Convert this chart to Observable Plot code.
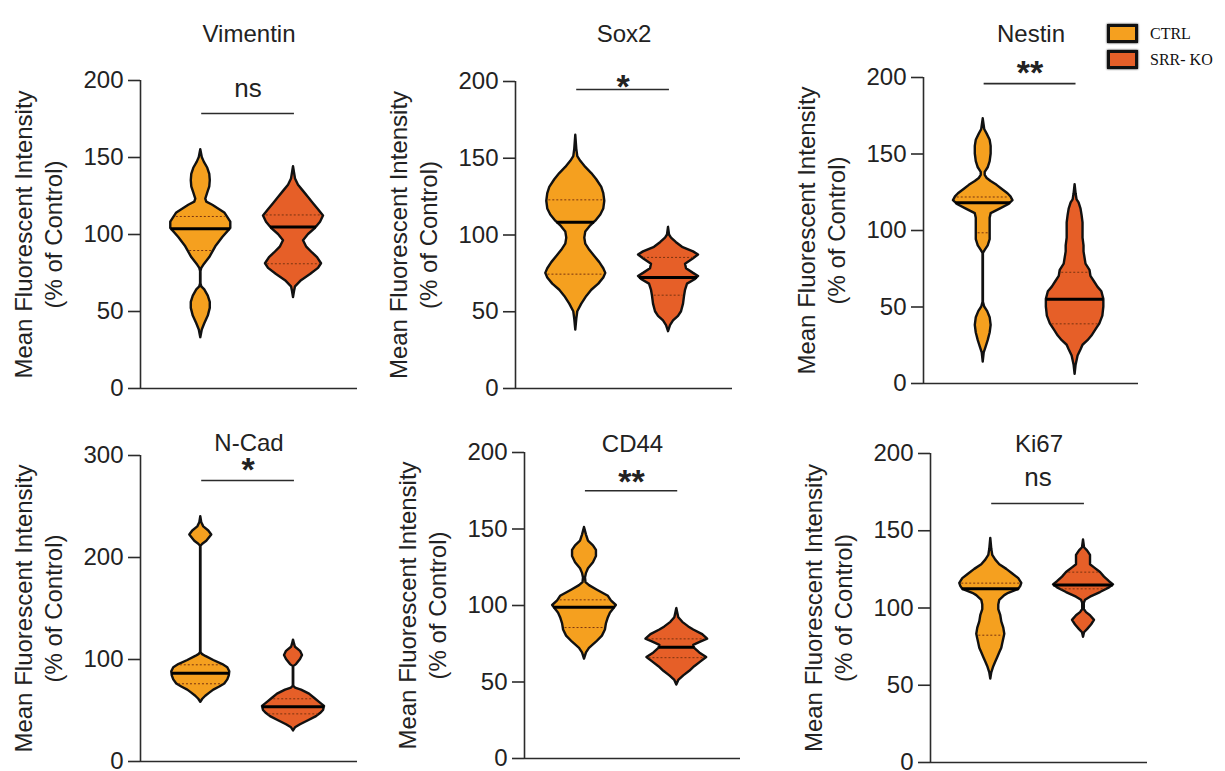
<!DOCTYPE html>
<html>
<head>
<meta charset="utf-8">
<script src="https://cdn.jsdelivr.net/npm/d3@7"></script>
<script src="https://cdn.jsdelivr.net/npm/@observablehq/plot@0.6"></script>
<style>
html, body { margin: 0; padding: 0; background: #fff; }
#root { position: relative; width: 1225px; height: 771px; overflow: hidden; font-family: "Liberation Sans", Arial, Helvetica, sans-serif; }
.panel { position: absolute; }
.legend { position: absolute; left: 1107px; top: 24px; font-family: "Liberation Serif", "Times New Roman", serif; font-size: 16px; color: #111; }
.legend .row { display: flex; align-items: center; height: 19px; margin-bottom: 7px; }
.legend .sw { width: 31px; height: 19px; box-sizing: border-box; border: 3.5px solid #111; margin-right: 12px; box-shadow: 0 0 2px #000; }
</style>
</head>
<body>
<div id="root"></div>
<script>
// ---------------- data ----------------
const markers = ["Vimentin", "Sox2", "Nestin", "N-Cad", "CD44", "Ki67"];
const groups = ["CTRL", "SRR- KO"];
const groupColors = ["#F5A01F", "#E65F28"];
const yLabel = "Mean Fluorescent Intensity\n(% of Control)";
const yMax = [200, 200, 200, 300, 200, 200];
const yTicks = [
  [0, 50, 100, 150, 200],
  [0, 50, 100, 150, 200],
  [0, 50, 100, 150, 200],
  [0, 100, 200, 300],
  [0, 50, 100, 150, 200],
  [0, 50, 100, 150, 200]
];
const significance = ["ns", "*", "**", "*", "**", "ns"];
const bracketY = [178.6, 194.8, 196, 275.5, 175, 167.6];
// [CTRL, SRR- KO]
const medians = [[103.7, 104.8], [108.3, 72.3], [118.1, 55], [86.6, 53.6], [98.9, 72.7], [112.4, 114.9]];
const quartile1 = [[89.6, 81], [74.5, 60.8], [98.5, 39], [76.2, 46.7], [85.6, 65.9], [82.4, 112.4]];
const quartile3 = [[111.7, 112.7], [122.9, 85.4], [121.9, 72.7], [94.8, 61.5], [103.7, 78.2], [116.1, 123.2]];

// violin density profiles: [value, relative density]
const vimentinCtrl = [[33,0],[38,1.5],[42,4],[47,7.5],[52,9.5],[56,9.5],[60,7.5],[64,4],[66,1],[68,0.2],[76,0.2],[78,1],[80,3],[85,9],[92,15],[98,22],[104,30],[108,30],[114,24],[119,12],[121,6],[123,5],[127,7],[131,9],[135,9.5],[139,9],[143,7],[147,3.5],[150,1.5],[155,0]];
const vimentinKo = [[59,0],[63,1],[66,2],[70,8],[74,17],[78,25],[81,28],[85,24],[88,19],[92,13],[96,10],[100,15],[104,22],[108,27],[112,30],[116,25],[120,20],[124,15],[128,10],[132,5],[136,2],[140,1],[144,0]];
const sox2Ctrl = [[38,0],[45,1],[50,2],[55,6],[60,11],[64,16],[68,23],[72,28],[75,30],[78,28],[82,24],[86,19],[90,14],[94,10],[98,9],[102,10],[106,15],[109,20],[113,25],[117,28],[122,29],[127,28],[131,26],[136,21],[140,16],[144,10],[148,5],[151,2],[156,1],[165,0]];
const sox2Ko = [[37,0],[41,2],[44,5],[47,10],[50,13],[55,15],[60,16],[64,17],[68,19],[71,27],[73,30],[75,25],[78,18],[81,17],[84,24],[87,30],[89,25],[92,14],[95,8],[98,3],[100,1],[105,0]];
const nestinCtrl = [[14,0],[20,1],[24,3],[28,5],[33,7],[38,8],[43,7],[47,4.5],[50,1.5],[53,0.2],[70,0.2],[85,0.2],[87,2],[90,5],[94,7],[100,7],[104,7],[108,7],[111,8],[114,17],[117,26],[119.5,30],[122,28],[124,25],[127,19],[129.5,14],[132,8],[134,4],[136,2],[138,2],[141,5],[145,7],[150,8],[155,8],[159,7],[163,4],[166,1.5],[173,0]];
const nestinKo = [[6,0],[12,1],[18,3],[22,6],[25,8],[28,13],[31,17],[35,21],[39,25],[44,28],[50,29],[55,29],[60,27],[63,23],[66,20],[70,16],[74,15],[78,11],[82,10],[86,9],[90,9],[95,8],[100,8],[105,8],[110,7],[114,6],[118,4],[120,2],[124,1],[130,0]];
const ncadCtrl = [[58,0],[61,2],[64,5],[67,9],[70,13],[73,19],[76,24],[80,27],[84,28.5],[88,29],[92,27],[95,22],[99,13],[103,5],[105,1.5],[107,0.2],[150,0.2],[211,0.2],[213,2],[216,6],[222,11],[226,8],[230,3],[234,1],[240,0]];
const ncadKo = [[30,0],[33,2],[36,7],[40,15],[44,23],[47,27],[50,30],[54,31],[58,26],[62,21],[66,16],[70,8],[72,2],[74,0.2],[93,0.2],[95,3],[100,7],[104,9],[108,7],[112,2],[115,1],[119,0]];
const cd44Ctrl = [[65,0],[69,2],[72,5],[76,12],[80,18],[84,21],[88,22],[92,24],[95,26],[100,32],[103,27],[106,24],[110,13],[113,5],[115,1.5],[118,1],[121,2],[124,4],[128,9],[132,12],[136,12],[139,9],[142,4],[146,2],[151,0]];
const cd44Ko = [[48,0],[51,2],[54,7],[57,13],[60,18],[63,24],[66,30],[69,23],[72,18],[74,17],[76,24],[78,31],[81,26],[84,17],[86,12],[89,6],[92,2],[95,1],[98,0]];
const ki67Ctrl = [[54,0],[58,1],[62,3],[65,5],[68,7],[71,9],[74,11],[77,12],[80,13],[83,14],[87,13],[91,11],[95,10],[99,8],[102,8],[105,9],[108,14],[109.5,18],[112,28],[114,30],[116,31],[119,28],[122,22],[125,16],[128,9],[131,5],[134,2],[138,1],[145,0]];
const ki67Ko = [[81,0],[84,1],[86,4],[89,8],[92,11],[95,7],[97,3],[99,0.8],[103,0.8],[105,2],[107,7],[110,17],[113,26],[115,30],[117,26],[120,21],[123,17],[126,11],[128,7],[131,7],[134,7],[137,4],[139,1],[144,0]];

const profiles = [
  [vimentinCtrl, vimentinKo],
  [sox2Ctrl, sox2Ko],
  [nestinCtrl, nestinKo],
  [ncadCtrl, ncadKo],
  [cd44Ctrl, cd44Ko],
  [ki67Ctrl, ki67Ko]
];

// ---------------- layout (page pixels) ----------------
const layout = [
  {rowTop: 0,   axisX: 140, yTop: 80,  yBottom: 388, xRight: 357,  titleY: 24,  labelDy: -16},
  {rowTop: 0,   axisX: 515, yTop: 81,  yBottom: 388, xRight: 732,  titleY: 24,  labelDy: 9},
  {rowTop: 0,   axisX: 923, yTop: 77,  yBottom: 383, xRight: 1138, titleY: 24,  labelDy: 0},
  {rowTop: 400, axisX: 140, yTop: 455, yBottom: 761, xRight: 357,  titleY: 433, labelDy: 1},
  {rowTop: 400, axisX: 524, yTop: 452, yBottom: 758, xRight: 740,  titleY: 434, labelDy: 2},
  {rowTop: 400, axisX: 930, yTop: 453, yBottom: 762, xRight: 1147, titleY: 434, labelDy: -18}
];
const X_DOMAIN = [-0.65, 1.69];
const DENSITY_TO_X = 1 / 92.7;
const AXIS_COLOR = "#2b2b2b";

function widthAt(profile, v) {
  for (let k = 0; k < profile.length - 1; k++) {
    const [a, wa] = profile[k], [b, wb] = profile[k + 1];
    if (v >= a && v <= b) return wa + (wb - wa) * (v - a) / (b - a);
  }
  return 0;
}

const root = document.getElementById("root");

markers.forEach((name, i) => {
  const L = layout[i];
  const svgLeft = L.axisX - 140;
  const marginTop = L.yTop - L.rowTop;
  const height = L.yBottom - L.rowTop + 10;
  const width = L.xRight - svgLeft + 10;

  const marks = [];
  groups.forEach((g, gi) => {
    marks.push(Plot.areaX(profiles[i][gi], {
      y: d => d[0],
      x1: d => gi - d[1] * DENSITY_TO_X,
      x2: d => gi + d[1] * DENSITY_TO_X,
      fill: groupColors[gi],
      stroke: "#111",
      strokeWidth: 2.4,
      strokeLinejoin: "round",
      curve: "linear"
    }));
  });

  const qRows = [], mRows = [];
  groups.forEach((g, gi) => {
    for (const q of [quartile1[i][gi], quartile3[i][gi]]) {
      const w = widthAt(profiles[i][gi], q) * DENSITY_TO_X;
      qRows.push({y: q, a: gi - w + 0.02, b: gi + w - 0.02});
    }
    const m = medians[i][gi];
    const wm = widthAt(profiles[i][gi], m) * DENSITY_TO_X;
    mRows.push({y: m, a: gi - wm, b: gi + wm});
  });
  marks.push(Plot.ruleY(qRows, {y: "y", x1: "a", x2: "b", stroke: "#7a3410", strokeWidth: 1, strokeDasharray: "2,2"}));
  marks.push(Plot.ruleY(mRows, {y: "y", x1: "a", x2: "b", stroke: "#000", strokeWidth: 3}));

  // axes
  marks.push(Plot.ruleX([X_DOMAIN[0]], {y1: 0, y2: yMax[i], stroke: AXIS_COLOR, strokeWidth: 1.6}));
  marks.push(Plot.ruleY([0], {stroke: AXIS_COLOR, strokeWidth: 1.6}));
  marks.push(Plot.axisY({ticks: yTicks[i], tickSize: 12, tickPadding: 5, fontSize: 24, stroke: AXIS_COLOR, strokeWidth: 1.6, label: null}));

  // significance bracket
  marks.push(Plot.ruleY([bracketY[i]], {x1: 0.01, x2: 1.01, stroke: AXIS_COLOR, strokeWidth: 1.6}));
  const star = significance[i] !== "ns";
  marks.push(Plot.text([significance[i]], {
    x: 0.51, y: bracketY[i], text: d => d, lineAnchor: "bottom", dy: L.labelDy,
    fontSize: star ? 34 : 26, fontWeight: star ? "bold" : "normal", fill: "#222"
  }));

  // title
  marks.push(Plot.text([name], {frameAnchor: "top", dy: L.titleY - L.yTop, fontSize: 24, fill: "#222"}));
  // y label
  marks.push(Plot.text([yLabel], {frameAnchor: "left", textAnchor: "middle", lineAnchor: "middle", rotate: -90, dx: -103, lineHeight: 1.25, fontSize: 24, fill: "#222"}));

  const chart = Plot.plot({
    width, height,
    marginLeft: 140, marginRight: 10, marginTop, marginBottom: 10,
    x: {domain: X_DOMAIN, axis: null},
    y: {domain: [0, yMax[i]]},
    style: {background: "transparent", overflow: "visible", fontFamily: "'Liberation Sans', Arial, Helvetica, sans-serif", fontSize: "24px", color: "#222"},
    marks
  });

  const div = document.createElement("div");
  div.className = "panel";
  div.style.left = svgLeft + "px";
  div.style.top = L.rowTop + "px";
  div.style.width = width + "px";
  div.appendChild(chart);
  root.appendChild(div);
});

// legend
const legend = document.createElement("div");
legend.className = "legend";
groups.forEach((g, gi) => {
  const row = document.createElement("div");
  row.className = "row";
  const sw = document.createElement("div");
  sw.className = "sw";
  sw.style.background = groupColors[gi];
  const label = document.createElement("span");
  label.textContent = g;
  row.appendChild(sw);
  row.appendChild(label);
  legend.appendChild(row);
});
root.appendChild(legend);
</script>
</body>
</html>
